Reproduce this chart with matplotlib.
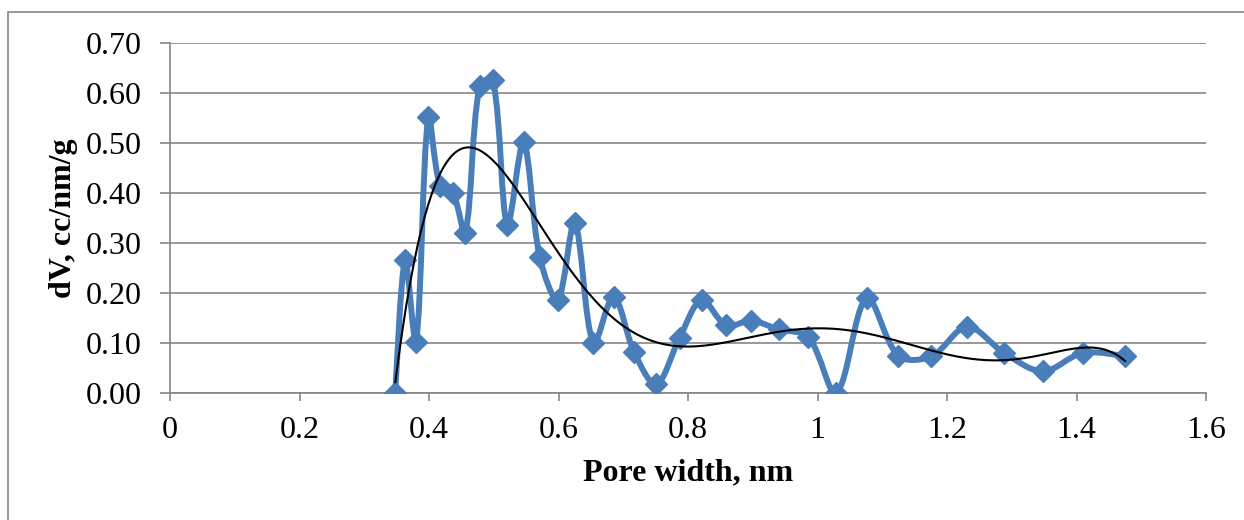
import numpy as np
import matplotlib
matplotlib.use('Agg')
import matplotlib.pyplot as plt
from matplotlib.path import Path
from matplotlib.patches import PathPatch, Rectangle
from matplotlib.ticker import FormatStrFormatter

plt.rcParams['font.family'] = ['Liberation Serif', 'DejaVu Serif']

# pore width (nm) and dV (cc/nm/g)
pore_width = [0.348, 0.363, 0.380, 0.399, 0.417, 0.437, 0.456, 0.478, 0.499,
              0.521, 0.546, 0.571, 0.599, 0.625, 0.654, 0.685, 0.717, 0.751,
              0.787, 0.821, 0.859, 0.898, 0.940, 0.986, 1.029, 1.076, 1.125,
              1.176, 1.231, 1.288, 1.348, 1.410, 1.475]
dv = [0.000, 0.266, 0.103, 0.553, 0.415, 0.400, 0.321, 0.615, 0.626,
      0.337, 0.502, 0.272, 0.187, 0.341, 0.100, 0.193, 0.082, 0.018,
      0.111, 0.186, 0.136, 0.145, 0.128, 0.112, 0.001, 0.190, 0.075,
      0.074, 0.133, 0.081, 0.044, 0.081, 0.074]

x_ticks = [0, 0.2, 0.4, 0.6, 0.8, 1.0, 1.2, 1.4, 1.6]
x_ticklabels = ['0', '0.2', '0.4', '0.6', '0.8', '1', '1.2', '1.4', '1.6']
y_ticks = [0.0, 0.1, 0.2, 0.3, 0.4, 0.5, 0.6, 0.7]

blue = '#4a7ebb'
grid_c = '#868686'
fs = 23

fig = plt.figure(figsize=(12.44, 5.2), dpi=100)
ax = fig.add_axes([170/1244, 1-393.3/520, 1036/1244, 350/520])

# outer chart border
fig.patches.append(Rectangle((8/1244, -0.05), 1.1, 1-12/520+0.05,
                             transform=fig.transFigure, fill=False,
                             edgecolor=grid_c, linewidth=1.2))

# smoothed line like excel (bezier through the points)
x = np.array(pore_width)
y = np.array(dv)
n = len(x)
sx, sy = 647.5, 500.0  # only to measure segment lengths in screen proportion
def seg(a, b):
    return np.hypot((b[0]-a[0])*sx, (b[1]-a[1])*sy)

pts = np.column_stack([x, y])
verts = [tuple(pts[0])]
codes = [Path.MOVETO]
for i in range(n-1):
    p0 = pts[max(i-1, 0)]
    p1 = pts[i]
    p2 = pts[i+1]
    p3 = pts[min(i+2, n-1)]
    l01, l12, l23 = seg(p0, p1), seg(p1, p2), seg(p2, p3)
    t1 = l12/(l01+l12)/3 if l01 > 0 else 0
    t2 = l12/(l12+l23)/3 if l23 > 0 else 0
    c1 = p1 + (p2 - p0)*t1
    c2 = p2 - (p3 - p1)*t2
    verts += [tuple(c1), tuple(c2), tuple(p2)]
    codes += [Path.CURVE4]*3
ax.add_patch(PathPatch(Path(verts, codes), facecolor='none', edgecolor=blue,
                       linewidth=4.3, zorder=3, capstyle='round', joinstyle='round'))
ax.plot(x, y, linestyle='none', marker='D', markersize=11.5, color=blue, zorder=4)

# polynomial trendline
coef = np.polyfit(x, y, 6)
xx = np.linspace(x[0], x[-1], 400)
ax.plot(xx, np.polyval(coef, xx), color='black', linewidth=1.5, zorder=5)

ax.set_xlim(0, 1.6)
ax.set_ylim(0, 0.7)
ax.set_xticks(x_ticks)
ax.set_xticklabels(x_ticklabels)
ax.set_yticks(y_ticks)
ax.yaxis.set_major_formatter(FormatStrFormatter('%.2f'))
ax.grid(axis='y', color=grid_c, linewidth=1.2)
ax.set_axisbelow(True)
for s in ['top', 'right']:
    ax.spines[s].set_visible(False)
for s in ['left', 'bottom']:
    ax.spines[s].set_color(grid_c)
    ax.spines[s].set_linewidth(1.2)
ax.tick_params(axis='both', colors=grid_c, labelcolor='black', labelsize=fs,
               width=1.2)
ax.tick_params(axis='y', length=7.2, pad=13)
ax.tick_params(axis='x', length=6, pad=10)

ax.set_xlabel('Pore width, nm', fontsize=fs, fontweight='bold', labelpad=10)
ax.set_ylabel('dV, cc/nm/g', fontsize=fs, fontweight='bold', labelpad=6)

fig.savefig('out.png', dpi=100)
